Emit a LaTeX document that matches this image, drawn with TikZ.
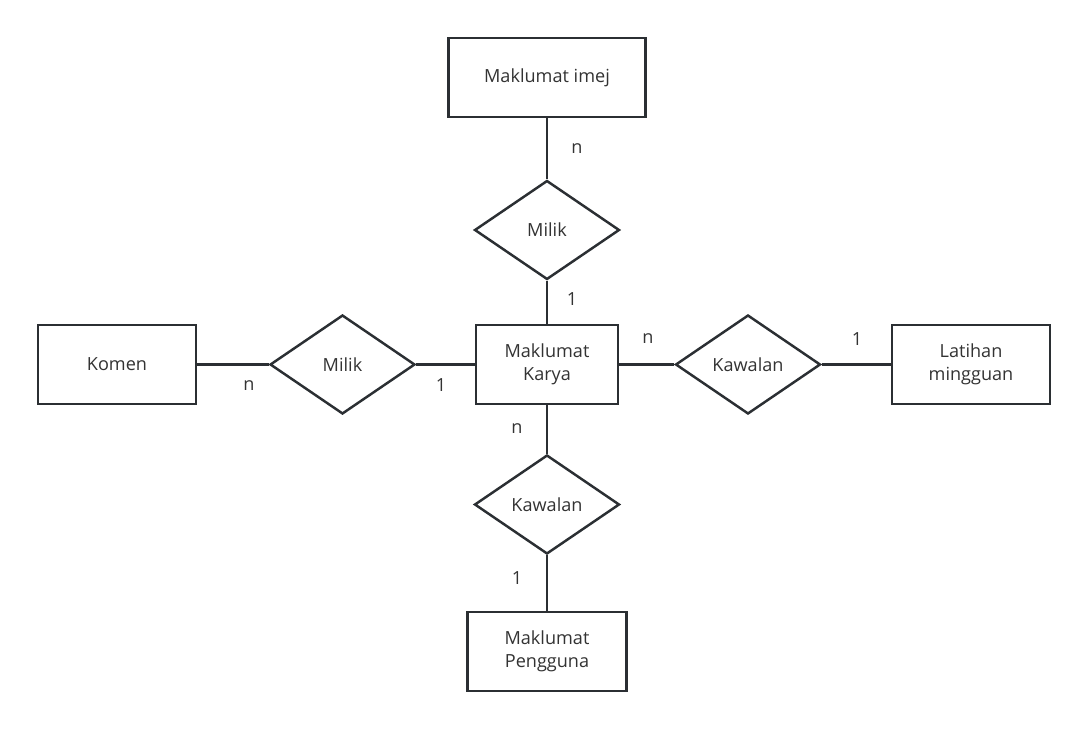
\documentclass[tikz,border=0pt]{standalone}
\usepackage{fontspec}
\setmainfont{Open Sans}
\usetikzlibrary{shapes.geometric}
\definecolor{erline}{HTML}{2B2F33}
\definecolor{ertext}{HTML}{333333}
\tikzset{
  entity/.style={draw=erline, line width=1.6pt, fill=white, inner sep=0pt,
    align=center, text=ertext, font=\fontsize{10.3}{13}\selectfont},
  relation/.style={draw=erline, line width=1.4pt, diamond, fill=white, inner sep=0pt,
    minimum width=2.9cm, minimum height=1.98cm, text=ertext, font=\fontsize{10.3}{13}\selectfont},
  link/.style={draw=erline, line width=1.4pt},
  card/.style={text=ertext, font=\fontsize{10.3}{13}\selectfont}
}
\begin{document}
\begin{tikzpicture}[x=0.02cm, y=-0.02cm]
    \useasboundingbox (0,0) rectangle (1087,729);
    % entities
    \node[entity, minimum width=3.94cm, minimum height=1.58cm] (imej) at (547,77.5) {Maklumat imej};
    \node[entity, minimum width=2.84cm, minimum height=1.58cm] (karya) at (547,364.5) {Maklumat\\Karya};
    \node[entity, minimum width=3.16cm, minimum height=1.58cm] (komen) at (117,364.5) {Komen};
    \node[entity, minimum width=3.16cm, minimum height=1.58cm] (latihan) at (971,364.5) {Latihan\\mingguan};
    \node[entity, minimum width=3.18cm, minimum height=1.58cm] (pengguna) at (547,651.5) {Maklumat\\Pengguna};
    % relations
    \node[relation] (milikA) at (547,230) {Milik};
    \node[relation] (milikB) at (342.5,364.5) {Milik};
    \node[relation] (kawalA) at (748,364.5) {Kawalan};
    \node[relation] (kawalB) at (547,504.5) {Kawalan};
    % links
    \draw[link] (imej) -- (milikA);
    \draw[link] (milikA) -- (karya);
    \draw[link] (komen) -- (milikB);
    \draw[link] (milikB) -- (karya);
    \draw[link] (karya) -- (kawalA);
    \draw[link] (kawalA) -- (latihan);
    \draw[link] (karya) -- (kawalB);
    \draw[link] (kawalB) -- (pengguna);
    % cardinalities
    \node[card] at (577,149) {n};
    \node[card] at (572,299) {1};
    \node[card] at (249,386) {n};
    \node[card] at (441,385) {1};
    \node[card] at (648,339) {n};
    \node[card] at (857,339) {1};
    \node[card] at (517,429) {n};
    \node[card] at (517,578) {1};
\end{tikzpicture}
\end{document}
